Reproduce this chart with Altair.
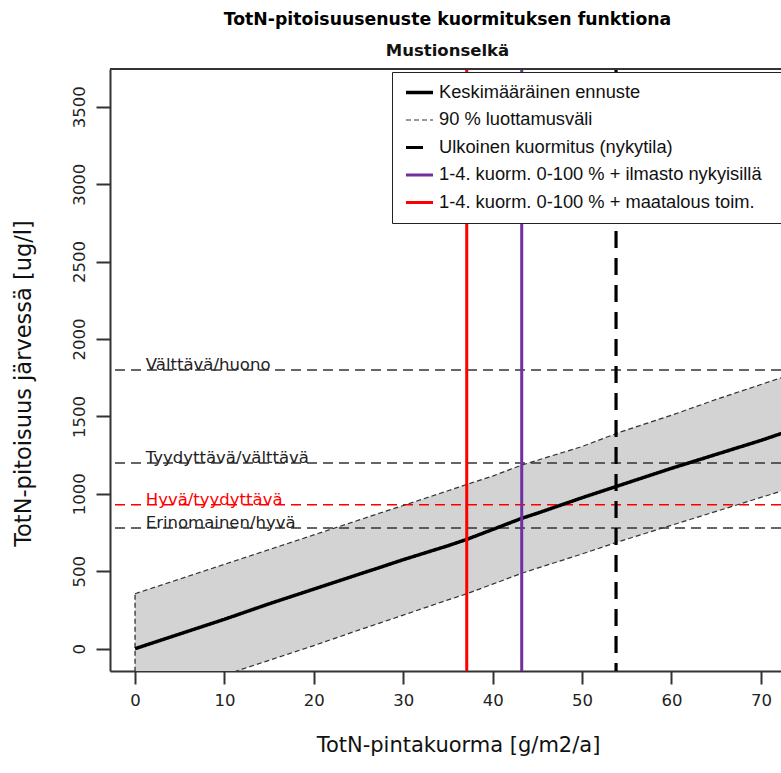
import altair as alt
import pandas as pd

# External TotN load (g/m2/a) and the predicted lake concentration (ug/l)
load = [0, 5, 10, 15, 20, 25, 27.5, 30, 35, 37.1, 40, 43.25, 45, 50, 54.3, 60, 65, 70, 72.8]
center = [0, 95, 190, 290, 385, 480, 527, 575, 665, 706, 770, 842, 875, 975, 1057, 1165, 1255, 1345, 1400]
upper = [355, 450, 545, 640, 735, 830, 878, 925, 1020, 1061, 1115, 1186, 1217, 1306, 1400, 1508, 1610, 1706, 1760]
lower = [-355, -262, -170, -75, 20, 120, 168, 217, 315, 355, 417, 487, 520, 612, 695, 797, 887, 977, 1027]

# Legend series
series_names = [
    "Keskimääräinen ennuste",
    "90 % luottamusväli",
    "Ulkoinen kuormitus (nykytila)",
    "1-4. kuorm. 0-100 % + ilmasto nykyisillä",
    "1-4. kuorm. 0-100 % + maatalous toim.",
]
series_colors = ["#000000", "#333333", "#000000", "#7030A0", "#FF0000"]
series_widths = [3.5, 1.2, 3.2, 3, 3]
series_dash = [[1, 0], [5, 3], [17, 10], [1, 0], [1, 0]]

# Scenario loads shown as vertical lines
scenario_names = series_names[2:]
scenario_loads = [53.8, 43.25, 37.1]

# Class boundaries of the ecological status
class_limits = [1800, 1200, 930, 780]
class_labels = ["Välttävä/huono", "Tyydyttävä/välttävä", "Hyvä/tyydyttävä", "Erinomainen/hyvä"]
highlight_label = "Hyvä/tyydyttävä"

x_ticks = [0, 10, 20, 30, 40, 50, 60, 70]
y_ticks = [0, 500, 1000, 1500, 2000, 2500, 3000, 3500]
X_DOMAIN = [-2.8, 72.25]
Y_DOMAIN = [-144, 3744]
LABEL_LOAD = 1.2

FONT = "DejaVu Sans"
LEGEND_FONT = "Liberation Sans"
W, H = 671, 602

band_df = pd.DataFrame({"load": load, "lower": lower, "upper": upper})
edge_df = band_df.iloc[[0]]

curve_rows = []
for l, c in zip(load, center):
    curve_rows.append({"load": l, "value": c, "series": series_names[0], "bound": "mid"})
for l, u in zip(load, upper):
    curve_rows.append({"load": l, "value": u, "series": series_names[1], "bound": "upper"})
for l, lo in zip(load, lower):
    curve_rows.append({"load": l, "value": lo, "series": series_names[1], "bound": "lower"})
curve_df = pd.DataFrame(curve_rows)

scen_df = pd.DataFrame({"load": scenario_loads, "series": scenario_names})
class_df = pd.DataFrame({"limit": class_limits, "label": class_labels})
class_df["red"] = class_df["label"] == highlight_label
class_df["x"] = LABEL_LOAD

x_scale = alt.Scale(domain=X_DOMAIN, nice=False, zero=False)
y_scale = alt.Scale(domain=Y_DOMAIN, nice=False, zero=False)

# the legend box runs on past the right edge of the frame
legend_props = dict(
    title=None,
    orient="none",
    legendX=282,
    legendY=3,
    symbolType="stroke",
    symbolSize=729,
    clipHeight=17,
    labelFont=LEGEND_FONT,
    labelFontSize=18.3,
    labelColor="#111111",
    labelOffset=4,
    labelLimit=600,
    rowPadding=8.5,
    padding=12,
    fillColor="white",
    strokeColor="#222222",
    labelExpr="datum.label + '\u2800'",
)

color_enc = alt.Color(
    "series:N",
    scale=alt.Scale(domain=series_names, range=series_colors),
    legend=alt.Legend(**legend_props),
)
dash_enc = alt.StrokeDash(
    "series:N",
    scale=alt.Scale(type="ordinal", domain=series_names, range=series_dash),
    legend=alt.Legend(**legend_props),
)
width_enc = alt.StrokeWidth(
    "series:N",
    scale=alt.Scale(type="ordinal", domain=series_names, range=series_widths),
    legend=alt.Legend(**legend_props),
)

x_axis = alt.Axis(
    values=x_ticks,
    title="TotN-pintakuorma [g/m2/a]",
    titleX=348,
    titleY=74,
    titleBaseline="middle",
)
y_axis = alt.Axis(
    values=y_ticks,
    format="d",
    title="TotN-pitoisuus järvessä [ug/l]",
    titleFontSize=22.5,
    labelAngle=270,
    labelAlign="center",
    labelBaseline="bottom",
    titleAngle=270,
    titleX=-87,
    titleY=314,
    titleAlign="center",
    titleBaseline="middle",
)

band = alt.Chart(band_df).mark_area(color="#D3D3D3", opacity=1, clip=True).encode(
    x=alt.X("load:Q", scale=x_scale, axis=x_axis),
    y=alt.Y("lower:Q", scale=y_scale, axis=y_axis),
    y2="upper:Q",
)

band_edge = alt.Chart(edge_df).mark_rule(
    color="#222222", strokeWidth=1.2, strokeDash=[5, 3], clip=True
).encode(x="load:Q", y="lower:Q", y2="upper:Q")

class_rules = alt.Chart(class_df).mark_rule(strokeWidth=1.5, strokeDash=[10, 6]).encode(
    y="limit:Q",
    color=alt.condition("datum.red", alt.value("#FF0000"), alt.value("#333333")),
)

class_text = alt.Chart(class_df).mark_text(
    align="left", baseline="alphabetic", dy=0, font=FONT, fontSize=16.5
).encode(
    x="x:Q",
    y="limit:Q",
    text="label:N",
    color=alt.condition("datum.red", alt.value("#FF0000"), alt.value("#222222")),
)

curves = alt.Chart(curve_df).mark_line(clip=True).encode(
    x="load:Q",
    y="value:Q",
    detail="bound:N",
    color=color_enc,
    strokeDash=dash_enc,
    strokeWidth=width_enc,
)

scenarios = alt.Chart(scen_df).mark_rule().encode(
    x="load:Q",
    color=color_enc,
    strokeDash=dash_enc,
    strokeWidth=width_enc,
)

top_border = alt.Chart(band_df.iloc[[0]]).mark_rule(color="#333333", strokeWidth=2).encode(
    y=alt.datum(Y_DOMAIN[1])
)

chart = (
    alt.layer(band, class_rules, class_text, band_edge, curves, scenarios, top_border)
    .properties(
        width=W,
        height=H,
        autosize=alt.AutoSizeParams(type="none"),
        padding={"left": 110, "top": 69, "right": 0, "bottom": 773 - 69 - H},
        title=alt.TitleParams(
            text="TotN-pitoisuusenuste kuormituksen funktiona",
            subtitle="Mustionselkä",
            anchor="middle",
            frame="group",
            dx=2,
            offset=8,
            font=FONT,
            fontSize=17.3,
            fontWeight="bold",
            color="#000000",
            subtitleFont=FONT,
            subtitleFontSize=16.5,
            subtitleFontWeight="bold",
            subtitleColor="#111111",
            subtitlePadding=14.5,
        ),
    )
    .configure_view(stroke=None)
    .configure_axis(
        grid=False,
        domainColor="#333333",
        domainWidth=2,
        tickColor="#333333",
        tickWidth=2,
        labelFont=FONT,
        labelFontSize=16.5,
        labelColor="#222222",
        titleFont=FONT,
        titleFontSize=21,
        titleFontWeight="normal",
        titleColor="#111111",
    )
    .configure_axisX(tickSize=13, labelPadding=8)
    .configure_axisY(tickSize=14, labelPadding=9)
)

chart.save("out.html", embed_options={"renderer": "svg", "actions": False})
